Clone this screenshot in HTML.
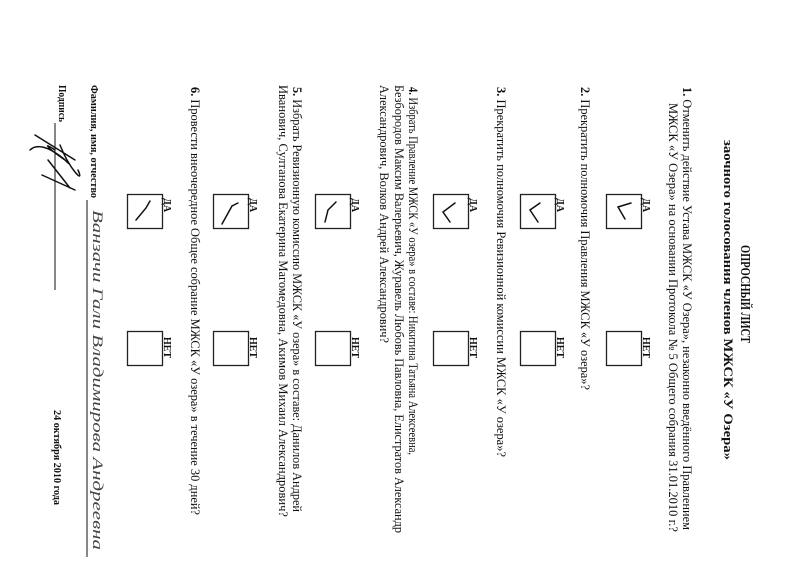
<!DOCTYPE html>
<html><head><meta charset="utf-8"><style>
html,body{margin:0;padding:0;background:#fff;}
svg{display:block;}
text{font-family:"Liberation Serif","DejaVu Serif",serif;fill:#111;}
.b{font-weight:bold;}
</style></head><body>
<svg width="800" height="566" viewBox="0 0 800 566" xmlns="http://www.w3.org/2000/svg">
<rect width="800" height="566" fill="#fff"/>
<g>
<text class="b" font-size="14" transform="translate(741,245) rotate(90)" textLength="98" lengthAdjust="spacingAndGlyphs">ОПРОСНЫЙ ЛИСТ</text>
<text class="b" font-size="12.5" transform="translate(724,140) rotate(90)" textLength="320" lengthAdjust="spacingAndGlyphs">заочного  голосования  членов  МЖСК  «У Озера»</text>

<text font-size="12.5" transform="translate(683,87) rotate(90)" textLength="443" lengthAdjust="spacingAndGlyphs"><tspan class="b">1.</tspan> Отменить действие Устава МЖСК «У Озера», незаконно введённого Правлением</text>
<text font-size="12.5" transform="translate(669,103) rotate(90)" textLength="429" lengthAdjust="spacingAndGlyphs">МЖСК «У Озера» на основании Протокола № 5 Общего собрания 31.01.2010 г.?</text>

<text font-size="12.5" transform="translate(581,87) rotate(90)" textLength="303" lengthAdjust="spacingAndGlyphs"><tspan class="b">2.</tspan> Прекратить полномочия Правления МЖСК «У озера»?</text>

<text font-size="12.5" transform="translate(497,87) rotate(90)" textLength="370" lengthAdjust="spacingAndGlyphs"><tspan class="b">3.</tspan> Прекратить полномочия Ревизионной комиссии МЖСК «У озера»?</text>

<text font-size="12.5" transform="translate(409,87) rotate(90)" textLength="368" lengthAdjust="spacingAndGlyphs"><tspan class="b">4.</tspan> Избрать Правление МЖСК «У озера» в составе: Никитина Татьяна Алексеевна,</text>
<text font-size="12.5" transform="translate(395,85) rotate(90)" textLength="448" lengthAdjust="spacingAndGlyphs">Безбородов Максим Валерьевич, Журавель Любовь Павловна, Елистратов Александр</text>
<text font-size="12.5" transform="translate(380,85) rotate(90)" textLength="258" lengthAdjust="spacingAndGlyphs">Александрович, Волков Андрей Александрович?</text>

<text font-size="12.5" transform="translate(293,87) rotate(90)" textLength="425" lengthAdjust="spacingAndGlyphs"><tspan class="b">5.</tspan> Избрать Ревизионную комиссию МЖСК «У озера» в составе: Данилов Андрей</text>
<text font-size="12.5" transform="translate(279,85) rotate(90)" textLength="432" lengthAdjust="spacingAndGlyphs">Иванович, Султанова Екатерина Магомедовна, Акимов Михаил Александрович?</text>

<text font-size="12.5" transform="translate(191,87) rotate(90)" textLength="428" lengthAdjust="spacingAndGlyphs"><tspan class="b">6.</tspan> Провести внеочередное Общее собрание МЖСК «У озера» в течение 30 дней?</text>

<text class="b" font-size="11" transform="translate(91,85) rotate(90)" textLength="113" lengthAdjust="spacingAndGlyphs">Фамилия, имя, отчество</text>
<text class="b" font-size="11" transform="translate(59,85) rotate(90)" textLength="37" lengthAdjust="spacingAndGlyphs">Подпись</text>
<text class="b" font-size="11" transform="translate(54,410) rotate(90)" textLength="95" lengthAdjust="spacingAndGlyphs">24 октября 2010 года</text>

<text font-size="15" font-style="italic" transform="translate(93,210) rotate(90)" textLength="340" lengthAdjust="spacingAndGlyphs" style="font-family:'Liberation Serif',serif;fill:#444">Ванзачи Гали Владимирова Андреевна</text>
</g>

<g stroke="#111" stroke-width="1" fill="none">
<line x1="87" y1="200" x2="87" y2="557"/>
<line x1="55" y1="123" x2="55" y2="290"/>
</g>

<g fill="none" stroke="#222" stroke-width="1.3">
<rect x="606.5" y="194.5" width="35" height="34"/><rect x="606.5" y="331.5" width="35" height="34"/>
<rect x="520.5" y="194.5" width="35" height="34"/><rect x="520.5" y="331.5" width="35" height="34"/>
<rect x="433.5" y="194.5" width="35" height="34"/><rect x="433.5" y="331.5" width="35" height="34"/>
<rect x="315.5" y="194.5" width="35" height="34"/><rect x="315.5" y="331.5" width="35" height="34"/>
<rect x="213.5" y="194.5" width="35" height="34"/><rect x="213.5" y="331.5" width="35" height="34"/>
<rect x="127.5" y="194.5" width="35" height="34"/><rect x="127.5" y="331.5" width="35" height="34"/>
</g>

<g>
<text class="b" font-size="10" transform="translate(643,198) rotate(90)">ДА</text><text class="b" font-size="10" transform="translate(643,337) rotate(90)">НЕТ</text>
<text class="b" font-size="10" transform="translate(557,198) rotate(90)">ДА</text><text class="b" font-size="10" transform="translate(557,337) rotate(90)">НЕТ</text>
<text class="b" font-size="10" transform="translate(470,198) rotate(90)">ДА</text><text class="b" font-size="10" transform="translate(470,337) rotate(90)">НЕТ</text>
<text class="b" font-size="10" transform="translate(352,198) rotate(90)">ДА</text><text class="b" font-size="10" transform="translate(352,337) rotate(90)">НЕТ</text>
<text class="b" font-size="10" transform="translate(250,198) rotate(90)">ДА</text><text class="b" font-size="10" transform="translate(250,337) rotate(90)">НЕТ</text>
<text class="b" font-size="10" transform="translate(164,198) rotate(90)">ДА</text><text class="b" font-size="10" transform="translate(164,337) rotate(90)">НЕТ</text>
</g>

<g fill="none" stroke="#111" stroke-width="1.5" stroke-linecap="round">
<polyline points="631,203 618,207 625,219"/>
<polyline points="540,203 530,210 538,222"/>
<polyline points="455,203 443,212 450,222"/>
<polyline points="336,202 328,210 325,222"/>
<polyline points="238,203 232,206 222,224"/>
<polyline points="150,201 146,208 136,220"/>
<path d="M35,135 L75,160 M30,150 C45,135 80,175 65,160 C50,150 40,140 55,150 M42,175 L75,190 M60,145 C70,170 85,185 78,170 M48,160 L70,188"/>
</g>
</svg>
</body></html>
